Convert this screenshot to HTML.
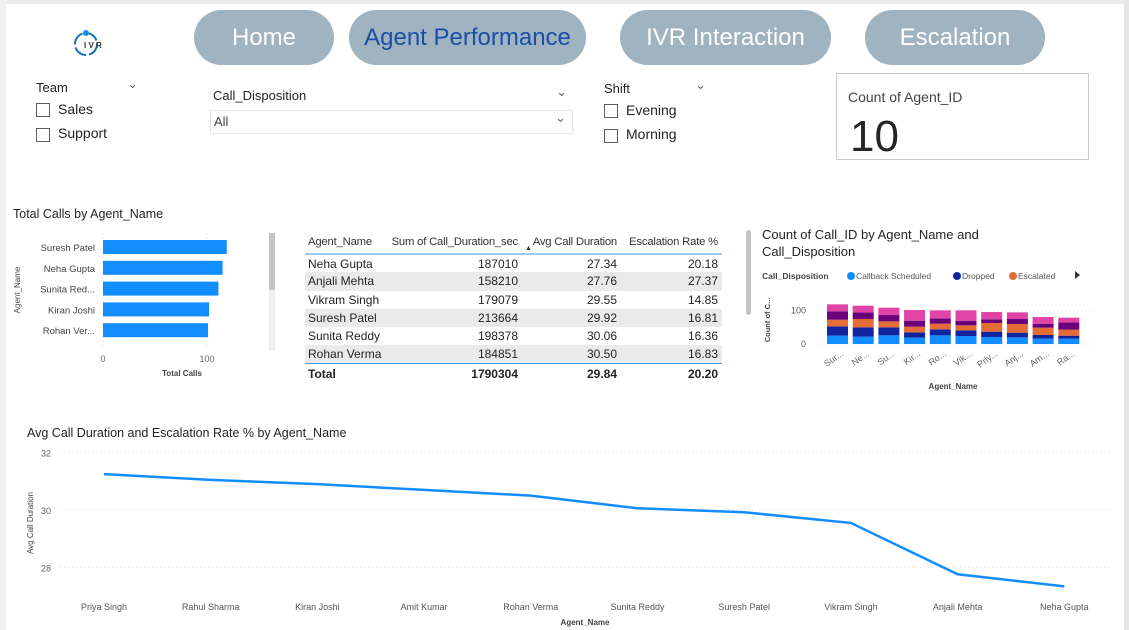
<!DOCTYPE html>
<html><head><meta charset="utf-8"><style>
body{margin:0;width:1129px;height:630px;background:#fff;position:relative;overflow:hidden;font-family:"Liberation Sans",sans-serif;color:#252423}
.abs{position:absolute}
.nav{position:absolute;top:10px;height:55px;border-radius:28px;background:#9fb3c1;color:#fff;font-size:24px;text-align:center;line-height:55px}
.cb{display:inline-block;width:12px;height:12px;border:1px solid #605e5c;vertical-align:middle;margin-right:8px}
.t{font-size:13px}
table{border-collapse:collapse;font-size:12px}
</style></head><body>
<div class="abs" style="left:0;top:0;width:1129px;height:4px;background:#ececec"></div>
<div class="abs" style="left:0;top:0;width:6px;height:630px;background:#f0f0f0"></div>
<div class="abs" style="left:1124px;top:0;width:5px;height:630px;background:#e6e6e6"></div>

<svg class="abs" style="left:70px;top:28px" width="40" height="32">
<circle cx="16" cy="16" r="11" fill="none" stroke="#1a6fb8" stroke-width="2" stroke-dasharray="14 3"/><circle cx="16" cy="5" r="3" fill="#1a8fe0"/>
<text x="14" y="20" font-size="8" font-weight="bold" fill="#333" font-family="Liberation Sans">I V R</text></svg>

<div class="nav" style="left:194px;width:140px">Home</div>
<div class="nav" style="left:349px;width:237px;color:#1b4fa6">Agent Performance</div>
<div class="nav" style="left:620px;width:211px">IVR Interaction</div>
<div class="nav" style="left:865px;width:180px">Escalation</div>

<div class="abs t" style="left:36px;top:80px">
<div style="position:relative;width:102px">Team<span style="position:absolute;right:0;top:-4px;color:#666">&#8964;</span></div>
<div style="margin-top:6px;font-size:14px"><span class="cb"></span>Sales</div>
<div style="margin-top:8px;font-size:14px"><span class="cb"></span>Support</div></div>

<div class="abs t" style="left:213px;top:88px;width:360px">
<div style="position:relative">Call_Disposition<span style="position:absolute;right:6px;top:-4px;color:#666">&#8964;</span></div>
<div style="margin-top:7px;margin-left:-3px;border:1px solid #e6e6e6;height:22px;line-height:22px;padding-left:3px;position:relative;color:#444">All<span style="position:absolute;right:6px;top:-4px;color:#666">&#8964;</span></div></div>

<div class="abs t" style="left:604px;top:81px">
<div style="position:relative;width:102px">Shift<span style="position:absolute;right:0;top:-4px;color:#666">&#8964;</span></div>
<div style="margin-top:6px;font-size:14px"><span class="cb"></span>Evening</div>
<div style="margin-top:8px;font-size:14px"><span class="cb"></span>Morning</div></div>

<div class="abs" style="left:836px;top:73px;width:251px;height:85px;border:1px solid #ccc">
<div style="position:absolute;left:11px;top:15px;font-size:14px;color:#444">Count of Agent_ID</div>
<div style="position:absolute;left:13px;top:38px;font-size:44px;color:#252423">10</div></div>

<svg class="abs" id="bar" style="left:0;top:200px" width="290" height="185"></svg>
<table class="abs" style="left:305px;top:230px;width:417px;table-layout:fixed">
<colgroup><col style="width:80px"><col style="width:134px"><col style="width:99px"><col style="width:104px"></colgroup>
<tr style="height:24px;border-bottom:2px solid #9cc7ee;color:#333;font-size:11.3px;letter-spacing:-0.2px"><td style="padding-left:3px;white-space:nowrap">Agent_Name</td><td style="text-align:right;white-space:nowrap">Sum of Call_Duration_sec</td><td style="text-align:right;position:relative;white-space:nowrap">Avg Call Duration<span style="position:absolute;left:6px;top:15px;font-size:7px">&#9650;</span></td><td style="text-align:right;padding-right:4px;white-space:nowrap">Escalation Rate %</td></tr>
<tbody id="tb"></tbody>
<tr style="height:20px;border-top:1px solid #4a9ae0;font-weight:bold"><td style="padding-left:3px">Total</td><td style="text-align:right">1790304</td><td style="text-align:right">29.84</td><td style="text-align:right;padding-right:4px">20.20</td></tr>
</table>

<div class="abs" style="left:746px;top:230px;width:5px;height:85px;background:#c4c4c4;border-radius:3px"></div>
<div class="abs" style="left:762px;top:226px;font-size:13px;line-height:17px">Count of Call_ID by Agent_Name and<br>Call_Disposition</div>
<svg class="abs" id="stk" style="left:755px;top:265px" width="370" height="130"></svg>

<svg class="abs" id="line" style="left:0;top:420px" width="1120" height="210"></svg>

<script>
const barNames=["Suresh Patel","Neha Gupta","Sunita Red...","Kiran Joshi","Rohan Ver..."];
const barVals=[119,115,111,102,101];
const tNames=["Neha Gupta","Anjali Mehta","Vikram Singh","Suresh Patel","Sunita Reddy","Rohan Verma"];
const tSum=[187010,158210,179079,213664,198378,184851];
const tAvg=["27.34","27.76","29.55","29.92","30.06","30.50"];
const tEsc=["20.18","27.37","14.85","16.81","16.36","16.83"];
const stkCats=["Sur...","Ne...","Su...","Kir...","Ro...","Vik...","Priy...","Anj...","Am...","Ra..."];
const sCallback=[25,22,26,19,26,24,21,20,16,16];
const sDropped=[28,28,24,16,18,17,16,14,11,9];
const sEscalated=[20,25,18,17,17,15,26,26,22,18];
const sOther=[25,20,19,18,16,14,11,15,12,22];
const sResolved=[21,20,22,32,24,31,22,20,20,14];
const lineCats=["Priya Singh","Rahul Sharma","Kiran Joshi","Amit Kumar","Rohan Verma","Sunita Reddy","Suresh Patel","Vikram Singh","Anjali Mehta","Neha Gupta"];
const lineVals=[31.25,31.05,30.9,30.7,30.5,30.06,29.92,29.55,27.76,27.34];
const lineTicks=[28,30,32];

const NS="http://www.w3.org/2000/svg";
function mk(p,tag,a,txt){const e=document.createElementNS(NS,tag);for(const k in a)e.setAttribute(k,a[k]);if(txt!==undefined)e.textContent=txt;p.appendChild(e);return e;}
const bar=document.getElementById('bar');
mk(bar,'text',{x:13,y:18,'font-size':12.5,fill:'#252423'},'Total Calls by Agent_Name');
const bx=v=>103+v*1.04;
[0,100].forEach(v=>{mk(bar,'line',{x1:bx(v),x2:bx(v),y1:33,y2:148,stroke:'#ddd','stroke-dasharray':'1 3'});
const t=mk(bar,'text',{x:bx(v),y:162,'font-size':9,fill:'#666','text-anchor':'middle'},v);});
barNames.forEach((n,i)=>{const y=40+i*20.8;
const r=mk(bar,'rect',{x:bx(0),y:y,width:bx(barVals[i])-bx(0),height:14,fill:'#118dff'});


mk(bar,'text',{x:95,y:y+11,'font-size':9.5,fill:'#444','text-anchor':'end'},n);});
mk(bar,'text',{x:182,y:176,'font-size':8,'font-weight':'bold',fill:'#444','text-anchor':'middle'},'Total Calls');
mk(bar,'text',{x:0,y:0,'font-size':8,fill:'#444','text-anchor':'middle',transform:'translate(20,90) rotate(-90)'},'Agent_Name');
mk(bar,'rect',{x:269,y:33,width:6,height:118,fill:'#f0f0f0'});mk(bar,'rect',{x:269,y:33,width:6,height:57,fill:'#c4c4c4'});
const tb=document.getElementById('tb');
tNames.forEach((n,i)=>{const tr=document.createElement('tr');tr.style.height='18.3px';if(i%2)tr.style.background='#eaeaea';


tr.innerHTML=`<td style="padding-left:3px;white-space:nowrap">${n}</td><td style="text-align:right">${tSum[i]}</td><td style="text-align:right">${tAvg[i]}</td><td style="text-align:right;padding-right:4px">${tEsc[i]}</td>`;tb.appendChild(tr);});
const stk=document.getElementById('stk');
mk(stk,'text',{x:7,y:14,'font-size':8.5,'font-weight':'bold',fill:'#444'},'Call_Disposition');
[["Callback Scheduled","#118dff",96],["Dropped","#12239e",202],["Escalated","#e66c37",258]].forEach(l=>{mk(stk,'circle',{cx:l[2],cy:11,r:4,fill:l[1]});mk(stk,'text',{x:l[2]+5,y:14,'font-size':8.5,fill:'#555'},l[0]);});
mk(stk,'path',{d:'M320 6 L325 10 L320 14Z',fill:'#333'});
const sy=v=>79-v*0.333;
[0,100].forEach(v=>{mk(stk,'line',{x1:63,x2:336,y1:sy(v),y2:sy(v),stroke:'#ddd','stroke-dasharray':'1 3'});mk(stk,'text',{x:51,y:sy(v)+3,'font-size':9,fill:'#555','text-anchor':'end'},v);});
mk(stk,'text',{x:0,y:0,'font-size':7.5,'font-weight':'bold',fill:'#444','text-anchor':'middle',transform:'translate(15,55) rotate(-90)'},'Count of C...');
const series=[sCallback,sDropped,sEscalated,sOther,sResolved],cols=['#118dff','#12239e','#e66c37','#6b007b','#e044a7'];
stkCats.forEach((c,i)=>{const x=72+i*25.7;let acc=0;
series.forEach((s,k)=>{const r=mk(stk,'rect',{x:x,y:sy(acc+s[i]),width:21,height:sy(acc)-sy(acc+s[i]),fill:cols[k]});


acc+=s[i];});
mk(stk,'text',{x:0,y:0,'font-size':9,fill:'#666','text-anchor':'end',transform:`translate(${x+17},90) rotate(-35)`},c);});
mk(stk,'text',{x:198,y:124,'font-size':8,'font-weight':'bold',fill:'#444','text-anchor':'middle'},'Agent_Name');
const ln=document.getElementById('line');
mk(ln,'text',{x:27,y:17,'font-size':12.5,fill:'#252423'},'Avg Call Duration and Escalation Rate % by Agent_Name');
const ly=v=>510-(v-30)*28.7, lx=i=>104+i*106.7;
lineTicks.forEach(v=>{mk(ln,'line',{x1:60,x2:1110,y1:ly(v)-420,y2:ly(v)-420,stroke:'#ddd','stroke-dasharray':'1 3'});
const t=mk(ln,'text',{x:51,y:ly(v)-416,'font-size':9,fill:'#666','text-anchor':'end'},v);});
mk(ln,'path',{d:lineVals.map((v,i)=>(i?'L':'M')+lx(i)+' '+(ly(v)-420)).join(' '),fill:'none',stroke:'#118dff','stroke-width':2.5});
lineCats.forEach((c,i)=>mk(ln,'text',{x:lx(i),y:190,'font-size':9,fill:'#555','text-anchor':'middle'},c));
mk(ln,'text',{x:585,y:205,'font-size':8,'font-weight':'bold',fill:'#444','text-anchor':'middle'},'Agent_Name');
mk(ln,'text',{x:0,y:0,'font-size':8,fill:'#444','text-anchor':'middle',transform:'translate(33,103) rotate(-90)'},'Avg Call Duration');
</script>
</body></html>
